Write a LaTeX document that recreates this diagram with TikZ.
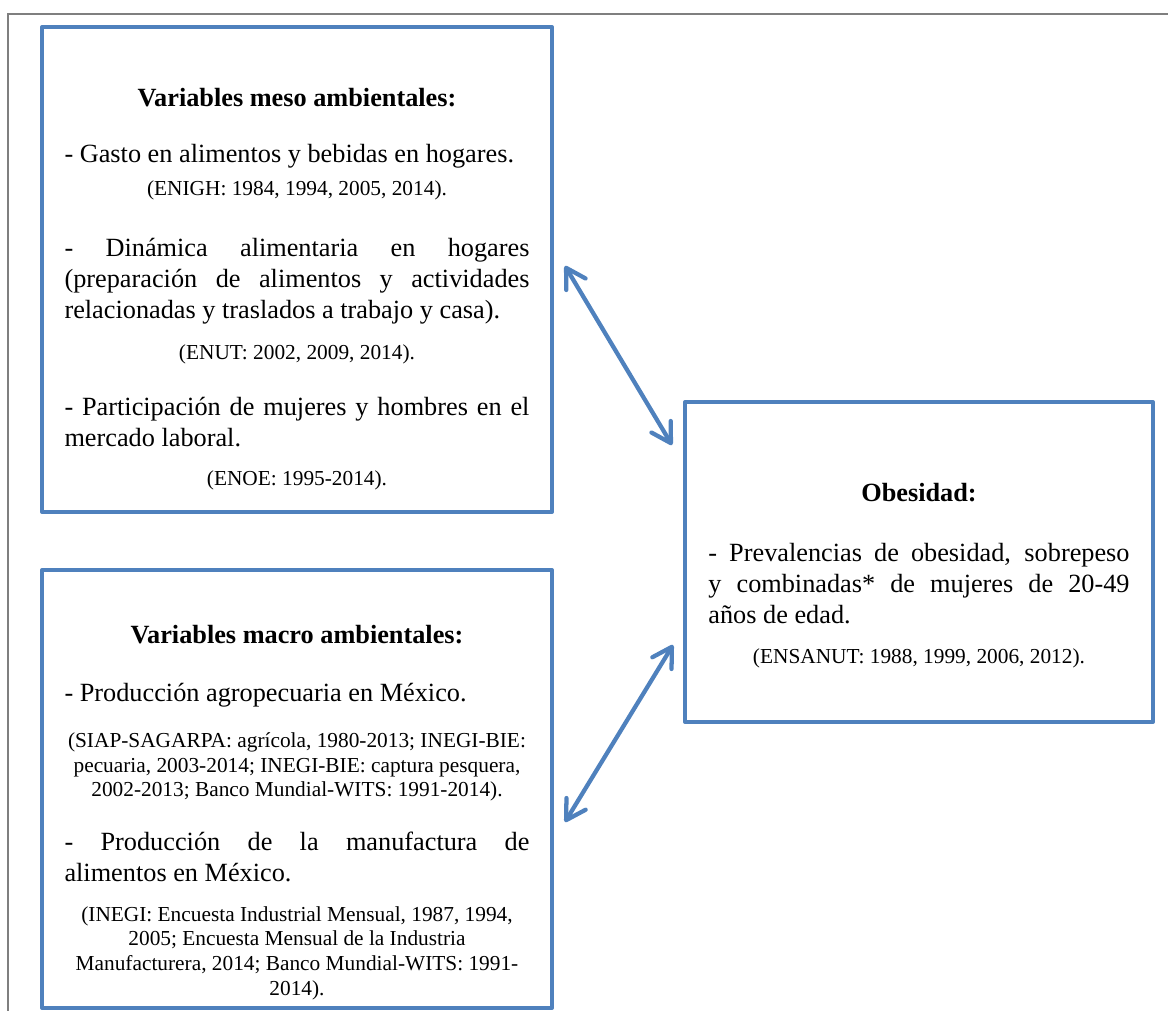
\documentclass[tikz,border=0pt]{standalone}
\usepackage{fontspec}
\setmainfont{Liberation Serif}
\usetikzlibrary{arrows.meta}
\definecolor{boxblue}{HTML}{4F81BD}
\definecolor{framegray}{HTML}{7F7F7F}
\newcommand{\pxu}{0.4452pt}
\hyphenpenalty=10000
\exhyphenpenalty=10000

\begin{document}
\begin{tikzpicture}[x=\pxu, y=-\pxu,
    box/.style={draw=boxblue, line width=1.8pt, line join=round, anchor=north west, inner sep=0pt, outer sep=0pt},
    head/.style={font=\fontsize{11.7}{13.8}\selectfont\bfseries, inner sep=0pt},
    txt/.style={font=\fontsize{11.7}{13.8}\selectfont, align=justify, text width=207pt, inner sep=0pt},
    src/.style={font=\fontsize{9.5}{11}\selectfont, align=center, inner sep=0pt},
    link/.style={draw=boxblue, line width=1.9pt, line cap=round,
        {Straight Barb[round,length=8.5pt,width=10pt]}-{Straight Barb[round,length=8.5pt,width=10pt]}}]
    \useasboundingbox (0,0) rectangle (1168,1011);

    % Outer frame
    \draw[framegray, line width=0.9pt] (8,1011) -- (8,14) -- (1168,14);

    % The three boxes
    \node[box, minimum width=510*\pxu, minimum height=485*\pxu] (meso) at (42,27) {};
    \node[box, minimum width=510*\pxu, minimum height=438*\pxu] (macro) at (42,570) {};
    \node[box, minimum width=468*\pxu, minimum height=320*\pxu] (obes) at (685,402) {};

    % Variables meso ambientales
    \node[head] (mesohead) at (297,98) {Variables meso ambientales:};
    \node[txt] (gasto) at (297,156) {- Gasto en alimentos y bebidas en hogares.};
    \node[src] (enigh) at (297,190) {(ENIGH: 1984, 1994, 2005, 2014).};
    \node[txt] (dinam) at (297,281) {- Dinámica alimentaria en hogares\linebreak
        (preparación de alimentos y actividades\linebreak
        relacionadas y traslados a trabajo y casa).};
    \node[src] (enut) at (297,354) {(ENUT: 2002, 2009, 2014).};
    \node[txt] (partic) at (297,422) {- Participación de mujeres y hombres en el\linebreak
        mercado laboral.};
    \node[src] (enoe) at (297,480) {(ENOE: 1995-2014).};

    % Variables macro ambientales
    \node[head] (macrohead) at (297,635) {Variables macro ambientales:};
    \node[txt] (agro) at (297,695) {- Producción agropecuaria en México.};
    \node[src] (siap) at (297,767) {(SIAP-SAGARPA: agrícola, 1980-2013; INEGI-BIE:\\
        pecuaria, 2003-2014; INEGI-BIE: captura pesquera,\\
        2002-2013; Banco Mundial-WITS: 1991-2014).};
    \node[txt] (manuf) at (297,857) {- Producción de la manufactura de\linebreak
        alimentos en México.};
    \node[src] (inegi) at (297,953) {(INEGI: Encuesta Industrial Mensual, 1987, 1994,\\
        2005; Encuesta Mensual de la Industria\\
        Manufacturera, 2014; Banco Mundial-WITS: 1991-\\
        2014).};

    % Obesidad
    \node[head] (obeshead) at (919,493) {Obesidad:};
    \node[txt, text width=187.5pt] (preval) at (919,584) {- Prevalencias de obesidad, sobrepeso\linebreak
        y combinadas* de mujeres de 20-49\linebreak
        años de edad.};
    \node[src] (ensanut) at (919,658) {(ENSANUT: 1988, 1999, 2006, 2012).};

    % Double arrows between the boxes
    \coordinate (m1) at ([shift={(13,239)}]meso.north east);
    \coordinate (o1) at ([shift={(-13,43)}]obes.north west);
    \coordinate (o2) at ([shift={(-12,243)}]obes.north west);
    \coordinate (m2) at ([shift={(13,252)}]macro.north east);
    \draw[link] (m1) -- (o1);
    \draw[link] (o2) -- (m2);
\end{tikzpicture}
\end{document}
